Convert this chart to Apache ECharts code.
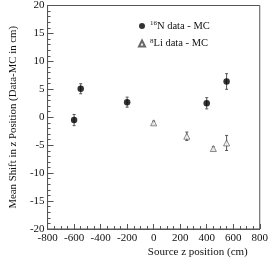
<!DOCTYPE html>
<html><head><meta charset="utf-8">
<script src="https://cdn.jsdelivr.net/npm/echarts@6/dist/echarts.min.js"></script>
<style>html,body{margin:0;padding:0;background:#fff}#c{width:271px;height:258px}</style>
</head><body><div id="c"></div>
<script>
// Data
const n16X = [-600, -550, -200, 400, 550];
const n16Y = [-0.5, 5.1, 2.7, 2.5, 6.4];
const n16Err = [1.0, 0.9, 0.9, 1.0, 1.4];
const li8X = [0, 250, 450, 550];
const li8Y = [-1.0, -3.4, -5.6, -4.6];
const li8Err = [0.3, 0.75, 0.3, 1.35];
const xTicks = [-800, -600, -400, -200, 0, 200, 400, 600, 800];
const yTicks = [-20, -15, -10, -5, 0, 5, 10, 15, 20];

const font = 'Liberation Serif';
const n16Pts = n16X.map((x, i) => [x, n16Y[i]]);
const li8Pts = li8X.map((x, i) => [x, li8Y[i]]);
const n16Bars = n16X.map((x, i) => [x, n16Y[i] - n16Err[i], n16Y[i] + n16Err[i]]);
const li8Bars = li8X.map((x, i) => [x, li8Y[i] - li8Err[i], li8Y[i] + li8Err[i]]);

function errRender(params, api) {
  const x = api.value(0);
  const lo = api.coord([x, api.value(1)]);
  const hi = api.coord([x, api.value(2)]);
  const c = 1.5;
  const st = {stroke: '#555', lineWidth: 1};
  return {type: 'group', children: [
    {type: 'line', shape: {x1: lo[0], y1: lo[1], x2: hi[0], y2: hi[1]}, style: st},
    {type: 'line', shape: {x1: lo[0]-c, y1: lo[1], x2: lo[0]+c, y2: lo[1]}, style: st},
    {type: 'line', shape: {x1: hi[0]-c, y1: hi[1], x2: hi[0]+c, y2: hi[1]}, style: st}
  ]};
}

const chart = echarts.init(document.getElementById('c'), null, {renderer: 'canvas'});
chart.setOption({
  animation: false,
  textStyle: {fontFamily: font},
  grid: {left: 36, right: 8, top: 3, bottom: 29, show: true, borderColor: '#555', borderWidth: 1, backgroundColor: 'transparent'},
  legend: {
    data: ['N16', 'Li8'], orient: 'vertical', left: 133, top: 15, itemGap: 6,
    itemWidth: 6, itemHeight: 6,
    formatter: function (name) {
      return name === 'N16' ? '{sup|16}{t|N data - MC}' : '{sup|8}{t|Li data - MC}';
    },
    textStyle: {fontFamily: font, color: '#111', rich: {
      sup: {fontSize: 7, fontFamily: font, color: '#111', verticalAlign: 'top', lineHeight: 7},
      t: {fontSize: 10.5, fontFamily: font, color: '#111', lineHeight: 12}
    }}
  },
  xAxis: {
    type: 'value', min: -800, max: 800, interval: 200,
    name: 'Source z position (cm)', nameLocation: 'end', nameGap: 0,
    nameTextStyle: {fontFamily: font, fontSize: 11, color: '#111', align: 'right', verticalAlign: 'top', padding: [18, 12, 0, 0]},
    axisLine: {onZero: false, lineStyle: {color: '#555'}},
    axisTick: {inside: true, length: 5, lineStyle: {color: '#555'}},
    minorTick: {show: true, splitNumber: 4, length: 3, lineStyle: {color: '#555'}},
    splitLine: {show: false},
    axisLabel: {fontFamily: font, fontSize: 11, color: '#111', margin: 4,
      customValues: xTicks, formatter: v => String(v)}
  },
  yAxis: {
    type: 'value', min: -20, max: 20, interval: 5,
    name: 'Mean Shift in z Position (Data-MC in cm)', nameLocation: 'middle', nameGap: 18,
    nameTextStyle: {fontFamily: font, fontSize: 10.8, color: '#111'},
    axisLine: {onZero: false, lineStyle: {color: '#555'}},
    axisTick: {inside: true, length: 6, lineStyle: {color: '#555'}},
    minorTick: {show: true, splitNumber: 5, length: 3, lineStyle: {color: '#555'}},
    splitLine: {show: false},
    axisLabel: {fontFamily: font, fontSize: 11, color: '#111', margin: 3,
      customValues: yTicks, formatter: v => String(v)}
  },
  series: [
    {type: 'custom', name: 'errN', renderItem: errRender, data: n16Bars, encode: {x: 0, y: [1, 2]}, z: 1},
    {type: 'custom', name: 'errL', renderItem: errRender, data: li8Bars, encode: {x: 0, y: [1, 2]}, z: 1},
    {type: 'scatter', name: 'N16', data: n16Pts, symbol: 'circle', symbolSize: 6.5,
      itemStyle: {color: '#000'}, z: 3},
    {type: 'scatter', name: 'Li8', data: li8Pts, symbol: 'triangle', symbolSize: 6,
      itemStyle: {color: '#fff', borderColor: '#444', borderWidth: 0.8}, z: 3}
  ]
});
</script></body></html>
